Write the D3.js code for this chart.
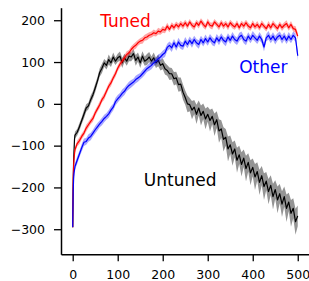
<!DOCTYPE html>
<html>
<head>
<meta charset="utf-8">
<script src="https://cdn.jsdelivr.net/npm/d3@7"></script>
<style>
  html, body { margin: 0; padding: 0; background: #fff; }
  svg { display: block; }
  text { font-family: "DejaVu Sans", sans-serif; }
</style>
</head>
<body>
<svg id="chart" width="309" height="281"></svg>
<script>
// ---- data ----
const steps = [0, 1, 2, 3, 4].concat(d3.range(5, 501, 5));
const xTicks = [0, 100, 200, 300, 400, 500];
const yTicks = [-300, -200, -100, 0, 100, 200];

const untuned = [-295, -200, -140, -110, -85,
  -75, -68, -55, -40, -25, -10, -5, 10, 22, 38,
  55, 75, 85, 98, 92, 106, 98, 112, 102, 110,
  114, 98, 110, 102, 114, 112, 120, 104, 112, 98,
  114, 102, 106, 112, 102, 110, 98, 104, 92, 96,
  84, 80, 72, 72, 60, 62, 46, 47, 28, 15,
  0, -2, -15, -8, -25, -10, -28, -18, -36, -25,
  -40, -30, -50, -38, -65, -60, -85, -80, -108, -98,
  -120, -108, -135, -122, -145, -130, -155, -140, -165, -152,
  -175, -162, -188, -172, -198, -185, -210, -195, -222, -205,
  -230, -215, -240, -222, -250, -235, -262, -250, -282, -268];
const untunedSpread = [4, 6, 8, 8, 8,
  8, 8, 9, 8, 10, 9, 8, 10, 9, 10,
  9, 10, 11, 9, 10, 12, 10, 11, 9, 10,
  11, 12, 10, 11, 12, 10, 11, 13, 11, 12,
  12, 11, 13, 12, 11, 13, 12, 14, 12, 13,
  14, 13, 15, 14, 16, 15, 17, 16, 18, 17,
  20, 16, 22, 17, 23, 18, 24, 19, 25, 18,
  26, 19, 27, 20, 28, 21, 29, 20, 30, 22,
  28, 20, 30, 22, 29, 21, 31, 22, 30, 21,
  31, 22, 30, 23, 32, 22, 30, 24, 31, 22,
  32, 23, 31, 24, 33, 22, 32, 24, 31, 25];

const tuned = [-295, -180, -150, -130, -120,
  -110, -95, -88, -78, -70, -58, -50, -42, -35, -22,
  -12, -2, 10, 18, 30, 42, 50, 62, 72, 85,
  95, 102, 110, 118, 122, 130, 136, 140, 146, 150,
  152, 158, 160, 164, 166, 170, 168, 174, 172, 178,
  176, 186, 178, 188, 182, 190, 184, 192, 186, 194,
  186, 196, 188, 184, 194, 188, 198, 190, 184, 196,
  188, 186, 196, 190, 184, 194, 186, 192, 184, 194,
  188, 184, 192, 182, 192, 186, 194, 186, 182, 192,
  184, 190, 182, 192, 186, 180, 190, 182, 192, 186,
  180, 190, 182, 188, 192, 182, 190, 180, 178, 162];
const tunedSpread = [3, 5, 6, 6, 6,
  7, 7, 8, 7, 7, 8, 7, 7, 8, 7,
  7, 8, 7, 8, 7, 7, 8, 7, 8, 7,
  8, 7, 7, 8, 7, 8, 7, 8, 7, 7,
  8, 7, 8, 7, 7, 8, 7, 8, 7, 8,
  7, 8, 7, 7, 8, 7, 8, 7, 8, 7,
  8, 7, 7, 8, 7, 8, 7, 8, 7, 8,
  7, 8, 7, 7, 8, 7, 8, 7, 8, 7,
  8, 7, 8, 7, 7, 8, 7, 8, 7, 8,
  7, 8, 7, 8, 7, 7, 8, 7, 8, 7,
  8, 7, 8, 7, 8, 7, 8, 7, 8, 8];

const other = [-295, -210, -180, -165, -158,
  -150, -135, -120, -105, -92, -90, -82, -78, -70, -62,
  -55, -48, -42, -35, -30, -24, -15, -8, 5, 12,
  18, 25, 30, 38, 44, 48, 52, 58, 62, 66,
  72, 78, 84, 88, 92, 98, 102, 108, 112, 118,
  122, 135, 140, 134, 146, 136, 148, 140, 138, 150,
  142, 152, 144, 154, 146, 142, 154, 146, 156, 148,
  158, 150, 146, 158, 150, 160, 152, 148, 160, 152,
  162, 154, 150, 160, 164, 154, 150, 162, 154, 164,
  158, 152, 162, 154, 136, 158, 164, 154, 162, 152,
  160, 164, 154, 162, 152, 162, 154, 164, 158, 115];
const otherSpread = [3, 6, 7, 8, 8,
  8, 9, 8, 9, 9, 8, 9, 9, 8, 9,
  9, 8, 9, 9, 8, 9, 9, 8, 9, 9,
  8, 9, 9, 8, 9, 9, 8, 9, 9, 8,
  9, 9, 8, 9, 9, 8, 9, 10, 9, 9,
  10, 9, 9, 10, 9, 9, 10, 9, 9, 10,
  9, 9, 10, 9, 9, 10, 9, 9, 10, 9,
  9, 10, 9, 9, 10, 9, 9, 10, 9, 9,
  10, 9, 9, 10, 9, 9, 10, 9, 9, 10,
  9, 9, 10, 9, 11, 9, 10, 9, 9, 10,
  9, 9, 10, 9, 9, 10, 9, 9, 10, 12];

const seriesNames = ["Untuned", "Tuned", "Other"];

// ---- drawing ----
const svg = d3.select("#chart");
const x = d3.scaleLinear().domain([-26, 525]).range([61, 309]);
const y = d3.scaleLinear().domain([-360, 230]).range([254.3, 7.7]);

const series = [
  { name: "Untuned", vals: untuned, spread: untunedSpread, color: "#000000", band: "rgba(0,0,0,0.42)" },
  { name: "Tuned", vals: tuned, spread: tunedSpread, color: "#ff0000", band: "rgba(255,0,0,0.35)" },
  { name: "Other", vals: other, spread: otherSpread, color: "#0000ff", band: "rgba(0,0,255,0.35)" }
];

const area = d3.area()
  .x(d => x(d.x)).y0(d => y(d.v - d.s)).y1(d => y(d.v + d.s));
const line = d3.line().x(d => x(d.x)).y(d => y(d.v));

series.forEach(s => {
  const pts = steps.map((st, i) => ({ x: st, v: s.vals[i], s: s.spread[i] }));
  svg.append("path").attr("d", area(pts)).attr("fill", s.band).attr("stroke", "none");
  svg.append("path").attr("d", line(pts)).attr("fill", "none")
    .attr("stroke", s.color).attr("stroke-width", 1.2).attr("stroke-linejoin", "round");
});

// axes
const fmt = d3.format("d");
const yAxis = svg.append("g").attr("transform", "translate(61,0)")
  .call(d3.axisLeft(y).tickValues(yTicks).tickFormat(v => fmt(v)).tickSize(7).tickSizeOuter(0).tickPadding(9));
const xAxis = svg.append("g").attr("transform", "translate(0,254.3)")
  .call(d3.axisBottom(x).tickValues(xTicks).tickFormat(v => fmt(v)).tickSize(7).tickSizeOuter(0).tickPadding(9));
[yAxis, xAxis].forEach(g => {
  g.selectAll("path.domain").attr("stroke", "#000").attr("stroke-width", 1.5);
  g.selectAll(".tick line").attr("stroke", "#000").attr("stroke-width", 1.3);
  g.selectAll(".tick text").attr("fill", "#000")
    .style("font-family", "'DejaVu Sans', sans-serif").style("font-size", "12.5px");
});

// labels
const labelFont = "17px";
svg.append("text").attr("x", x(61)).attr("y", y(183)).attr("fill", "#ff0000")
  .style("font-size", labelFont).text(seriesNames[1]);
svg.append("text").attr("x", x(370)).attr("y", y(73)).attr("fill", "#0000ff")
  .style("font-size", labelFont).text(seriesNames[2]);
svg.append("text").attr("x", x(158)).attr("y", y(-196)).attr("fill", "#000000")
  .style("font-size", labelFont).text(seriesNames[0]);
</script>
</body>
</html>
